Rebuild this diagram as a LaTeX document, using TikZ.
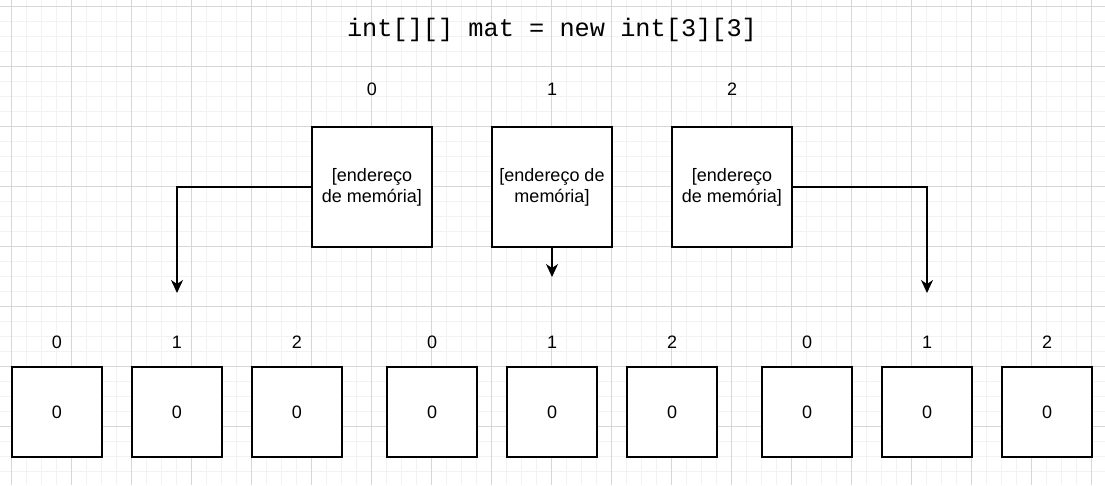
\documentclass[tikz,border=0pt]{standalone}
\usepackage{fontspec}
\setmainfont{Liberation Sans}
\newfontfamily\codefont{Liberation Mono}
\usetikzlibrary{arrows.meta}
\begin{document}
\begin{tikzpicture}[x=1pt,y=-1pt,
  gridminor/.style={draw=black!5, line width=0.8pt},
  gridmajor/.style={draw=black!16, line width=0.8pt},
  cell/.style={draw=black, line width=1.2pt, fill=white, minimum width=90pt, minimum height=90pt, inner sep=0pt, font=\fontsize{18}{21}\selectfont},
  ptr/.style={cell, minimum width=120pt, minimum height=120pt, align=center},
  idx/.style={font=\fontsize{18}{21}\selectfont, inner sep=0pt},
  link/.style={draw=black, line width=1.1pt, -{Stealth[length=13pt,width=12pt,inset=4pt]}},
  title/.style={font=\codefont\fontsize{25.3}{30}\selectfont, inner sep=0pt, anchor=base}]
\useasboundingbox (0,0) rectangle (1105,485);
\fill[white] (0,0) rectangle (1105,485);
\foreach \x in {11,26,...,1105} \draw[gridminor] (\x,0) -- (\x,485);
\foreach \y in {6,21,...,485} \draw[gridminor] (0,\y) -- (1105,\y);
\foreach \x in {11,71,...,1105} \draw[gridmajor] (\x,0) -- (\x,485);
\foreach \y in {6,66,...,485} \draw[gridmajor] (0,\y) -- (1105,\y);

\node[title] (t) at (552,36) {int[][] mat = new int[3][3]};

\node[idx] (l0) at (372,89) {0};
\node[idx] (l1) at (552,89) {1};
\node[idx] (l2) at (732,89) {2};

\node[ptr] (p0) at (372,187) {[endereço\\de memória]};
\node[ptr] (p1) at (552,187) {[endereço de\\memória]};
\node[ptr] (p2) at (732,187) {[endereço\\de memória]};

\foreach \i/\x/\n in {a/57/0,b/177/1,c/297/2,d/432/0,e/552/1,f/672/2,g/807/0,h/927/1,k/1047/2}{
  \node[idx] (i\i) at (\x,342) {\n};
  \node[cell] (c\i) at (\x,412) {0};
}

\coordinate (a0) at (177,293);
\coordinate (a1) at (552,277);
\coordinate (a2) at (927,293);
\draw[link] (p0.west) -| (a0);
\draw[link] (p1.south) -- (a1);
\draw[link] (p2.east) -| (a2);
\end{tikzpicture}
\end{document}
